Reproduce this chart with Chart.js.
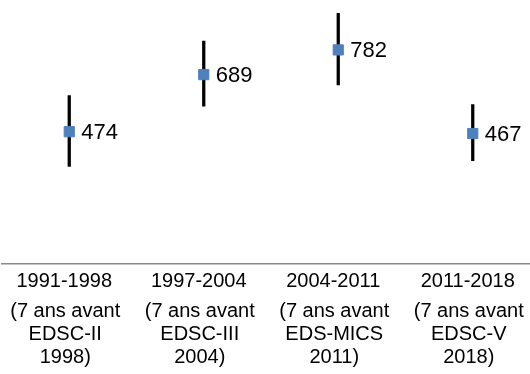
<!DOCTYPE html>
<html>
<head>
<meta charset="utf-8">
<script src="https://cdn.jsdelivr.net/npm/chart.js@4"></script>
<style>
  html, body { margin: 0; padding: 0; overflow: hidden; background: #fff; }
</style>
</head>
<body>
<canvas id="chart" width="545" height="374"></canvas>
<script>
const periods = ['1991-1998', '1997-2004', '2004-2011', '2011-2018'];
const notes = [
    ['(7 ans avant', 'EDSC-II', '1998)'],
    ['(7 ans avant', 'EDSC-III', '2004)'],
    ['(7 ans avant', 'EDS-MICS', '2011)'],
    ['(7 ans avant', 'EDSC-V', '2018)']
];
const values = [474, 689, 782, 467];
const lower = [343, 570, 650, 365];
const upper = [610, 815, 920, 576];

const FONT = '"Liberation Sans", Arial, sans-serif';

// value labels to the right of the markers
const valueLabels = {
    id: 'valueLabels',
    afterDatasetsDraw(chart) {
        const ctx = chart.ctx;
        const meta = chart.getDatasetMeta(0);
        ctx.save();
        ctx.font = '22px ' + FONT;
        ctx.fillStyle = '#000';
        ctx.textAlign = 'left';
        ctx.textBaseline = 'middle';
        meta.data.forEach((pt, i) => {
            ctx.fillText(String(values[i]), pt.x + 12, pt.y + 1);
        });
        ctx.restore();
    }
};

// keep the plot area from shrinking for the wide labels
const noLabelPadding = (scale) => {
    scale.paddingLeft = 0;
    scale.paddingRight = 0;
};

const ctx = document.getElementById('chart').getContext('2d');
const chart = new Chart(ctx, {
    type: 'bar',
    data: {
        labels: periods,
        datasets: [
            {
                type: 'line',
                label: 'valeur',
                data: values,
                showLine: false,
                pointStyle: 'rect',
                pointRadius: 7.2,
                pointBackgroundColor: '#4F81BD',
                pointBorderColor: '#4F81BD',
                pointBorderWidth: 1,
                order: 0
            },
            {
                label: 'intervalle',
                data: lower.map((lo, i) => [lo, upper[i]]),
                backgroundColor: '#000',
                barThickness: 2.6,
                order: 1
            }
        ]
    },
    plugins: [valueLabels],
    options: {
        responsive: false,
        animation: false,
        layout: { autoPadding: false, padding: { left: 2, right: 5, top: 0, bottom: 5 } },
        plugins: {
            legend: { display: false },
            tooltip: { enabled: false }
        },
        scales: {
            x: {
                position: 'bottom',
                afterFit: noLabelPadding,
                grid: { display: false, drawTicks: false },
                border: { display: true, color: '#898989', width: 1.6 },
                ticks: {
                    color: '#000',
                    font: { family: FONT, size: 20, lineHeight: 1.2 },
                    padding: 6,
                    labelOffset: -5,
                    maxRotation: 0,
                    autoSkip: false
                }
            },
            x2: {
                type: 'category',
                position: 'bottom',
                labels: notes,
                offset: true,
                afterFit: noLabelPadding,
                grid: { display: false, drawTicks: false },
                border: { display: false },
                ticks: {
                    color: '#000',
                    font: { family: FONT, size: 20, lineHeight: 1.16 },
                    padding: 0,
                    labelOffset: -4,
                    maxRotation: 0,
                    autoSkip: false
                }
            },
            y: {
                display: false,
                min: -22,
                max: 970
            }
        }
    }
});
</script>
</body>
</html>
